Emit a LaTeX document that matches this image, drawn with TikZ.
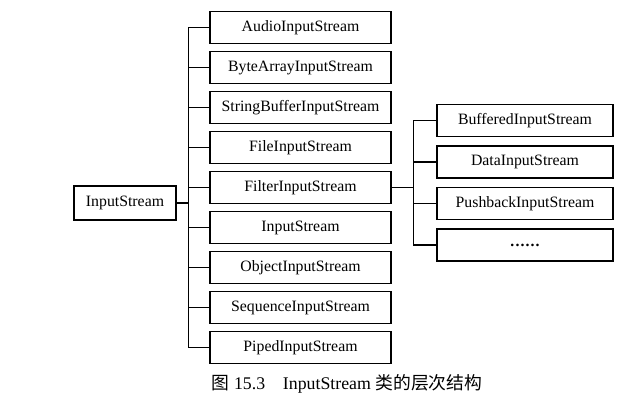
\documentclass[tikz,border=0pt]{standalone}
\usepackage{fontspec}
\setmainfont{Liberation Serif}
\newfontfamily\cjk{Noto Sans CJK SC}
\usetikzlibrary{positioning}
\tikzset{
  cls/.style={draw, line width=1.1pt, minimum width=135.75pt, minimum height=24pt,
    inner sep=0pt, font=\fontsize{11.85}{14}\selectfont},
  sub/.style={cls, minimum width=132pt},
  link/.style={line width=1.1pt}
}
\begin{document}
\begin{tikzpicture}[x=0.75pt,y=-0.75pt]
      \useasboundingbox (0,0) rectangle (634,419);
      \node[cls, minimum width=76.5pt, minimum height=25.5pt] (root) at (125,203) {InputStream};
      \draw
        (300.5,27.5) node[cls] (audio){AudioInputStream}
        (300.5,67.5) node[cls] (bytearray){ByteArrayInputStream}
        (300.5,107.5) node[cls] (stringbuf){StringBufferInputStream}
        (300.5,147.5) node[cls] (file){FileInputStream}
        (300.5,187.5) node[cls] (filter){FilterInputStream}
        (300.5,227.5) node[cls] (input){InputStream}
        (300.5,267.5) node[cls] (object){ObjectInputStream}
        (300.5,307.5) node[cls] (sequence){SequenceInputStream}
        (300.5,347.5) node[cls] (piped){PipedInputStream};
      \draw
        (525,120.5) node[sub] (buffered){BufferedInputStream}
        (525,162) node[sub] (data){DataInputStream}
        (525,203.5) node[sub] (pushback){PushbackInputStream}
        (525,245) node[sub] (more){\bfseries .\kern0.8pt.\kern0.8pt.\kern0.8pt.\kern0.8pt.\kern0.8pt.};
      \begin{scope}[link]
        \draw (root.east) -- ++(12,0) |- (audio.west);
        \draw (root.east) -- ++(12,0) |- (bytearray.west);
        \draw (root.east) -- ++(12,0) |- (stringbuf.west);
        \draw (root.east) -- ++(12,0) |- (file.west);
        \draw (root.east) -- ++(12,0) |- (filter.west);
        \draw (root.east) -- ++(12,0) |- (input.west);
        \draw (root.east) -- ++(12,0) |- (object.west);
        \draw (root.east) -- ++(12,0) |- (sequence.west);
        \draw (root.east) -- ++(12,0) |- (piped.west);
        \draw (filter.east) -- ++(22,0) |- (buffered.west);
        \draw (filter.east) -- ++(22,0) |- (data.west);
        \draw (filter.east) -- ++(22,0) |- (pushback.west);
        \draw (filter.east) -- ++(22,0) |- (more.west);
      \end{scope}
      \node[font=\fontsize{13.35}{16}\selectfont] (caption) at (347,384)
        {{\cjk 图} 15.3\hspace{1em}InputStream {\cjk 类的层次结构}};
    \end{tikzpicture}
\end{document}
